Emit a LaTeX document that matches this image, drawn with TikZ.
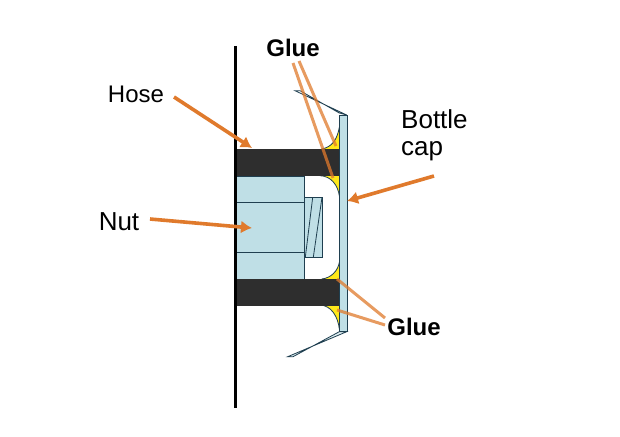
\documentclass[tikz,border=0pt]{standalone}
\usepackage{fontspec}
\setmainfont{Liberation Sans}
\usetikzlibrary{arrows.meta}
\definecolor{orangeln}{HTML}{E07A2C}
\definecolor{pale}{HTML}{BFDFE6}
\definecolor{hosec}{HTML}{2E2E2E}
\definecolor{outl}{HTML}{1F3F50}
\definecolor{glue}{HTML}{FFE81A}
\tikzset{
 lbl/.style={font=\fontsize{24}{28}\selectfont,inner sep=0pt,text=black},
 biglbl/.style={font=\fontsize{26}{30}\selectfont,inner sep=0pt,text=black},
 glbl/.style={inner sep=0pt,text=black,font=\fontsize{24}{28}\selectfont\bfseries},
 part/.style={draw=outl,line width=0.8pt,fill=pale},
 hosebar/.style={fill=hosec,draw=hosec,line width=0.5pt},
 fillet/.style={draw=outl,line width=0.8pt},
 arr/.style={draw=orangeln,line width=3.6pt,-{Latex[length=11pt,width=13pt]}},
 gl/.style={draw=orangeln,line width=3pt,opacity=.75},
}
\begin{document}
\begin{tikzpicture}[x=1pt,y=-1pt]
\useasboundingbox (0,0) rectangle (620,436);
\fill[white] (0,0) rectangle (620,436);
% flaps
\draw[part,fill=white] (346.7,115)--(295,90.7)--(300,90.7)--(339.3,113)--cycle;
\draw[part,fill=pale!50!white] (346.7,331.7)--(287.7,356.7)--(293,356.7)--(339.3,331.7)--cycle;
% nut
\draw[part] (236,176) rectangle (304,279);
\draw[outl,line width=.8pt] (236,202)--(304,202) (236,252.7)--(304,252.7);
\draw[part] (304.3,197.3) rectangle (322,257.3);
\draw[outl,line width=.8pt] (312.7,197.3)--(305.3,257.3) (322,197.3)--(313.3,257.3);
% fillets
\fill[glue] (339.5,126.7) .. controls (337,140) and (332,147) .. (321.7,149) -- (339.5,149) -- cycle;
\draw[fillet] (339.5,126.7) .. controls (337,140) and (332,147) .. (321.7,149);
\fill[glue] (320,175.7) .. controls (331,176) and (338,185) .. (339.5,196.7) -- (339.5,175.7) -- cycle;
\draw[fillet] (320,175.7) .. controls (331,176) and (338,185) .. (339.5,196.7);
\fill[glue] (339.5,261.7) .. controls (338,271) and (331,278) .. (321.7,279) -- (339.5,279) -- cycle;
\draw[fillet] (339.5,261.7) .. controls (338,271) and (331,278) .. (321.7,279);
\fill[glue] (320,305) .. controls (331,305.5) and (338,316) .. (339.5,330) -- (339.5,305) -- cycle;
\draw[fillet] (320,305) .. controls (331,305.5) and (338,316) .. (339.5,330);
% hose
\draw[hosebar] (236,149) rectangle (339.5,175.7);
\draw[hosebar] (236,279) rectangle (339.5,305);
% plate
\draw[part] (339.5,115) rectangle (347.3,331);
% wall
\coordinate (walltop) at (235.5,46);
\coordinate (wallbot) at (235.5,408);
\draw[black,line width=3pt] (walltop)--(wallbot);
% labels
\node[lbl,anchor=center] (hose) at (136,94) {Hose};
\node[biglbl,anchor=center] (nut) at (119,222) {Nut};
\node[biglbl,anchor=west] (cap1) at (401,119) {Bottle};
\node[biglbl,anchor=west] (cap2) at (401,151) {cap};
\node[glbl] (gluetop) at (293,48) {Glue};
\node[glbl] (gluebot) at (414,327) {Glue};
% connectors
\coordinate (hs) at (174,97); \coordinate (he) at (252,148);
\coordinate (ns) at (150,219); \coordinate (ne) at (252,228);
\coordinate (cs) at (434,176); \coordinate (ce) at (347,201);
\draw[arr] (hs)--(he);
\draw[arr] (ns)--(ne);
\draw[arr] (cs)--(ce);
\coordinate (g1) at (293,63); \coordinate (g1e) at (333,178);
\coordinate (g2) at (299,61); \coordinate (g2e) at (336,146);
\coordinate (g3) at (385,318); \coordinate (g3e) at (337,279);
\coordinate (g4) at (385,325); \coordinate (g4e) at (337,310);
\draw[gl] (g1)--(g1e);
\draw[gl] (g2)--(g2e);
\draw[gl] (g3)--(g3e);
\draw[gl] (g4)--(g4e);
\end{tikzpicture}
\end{document}
